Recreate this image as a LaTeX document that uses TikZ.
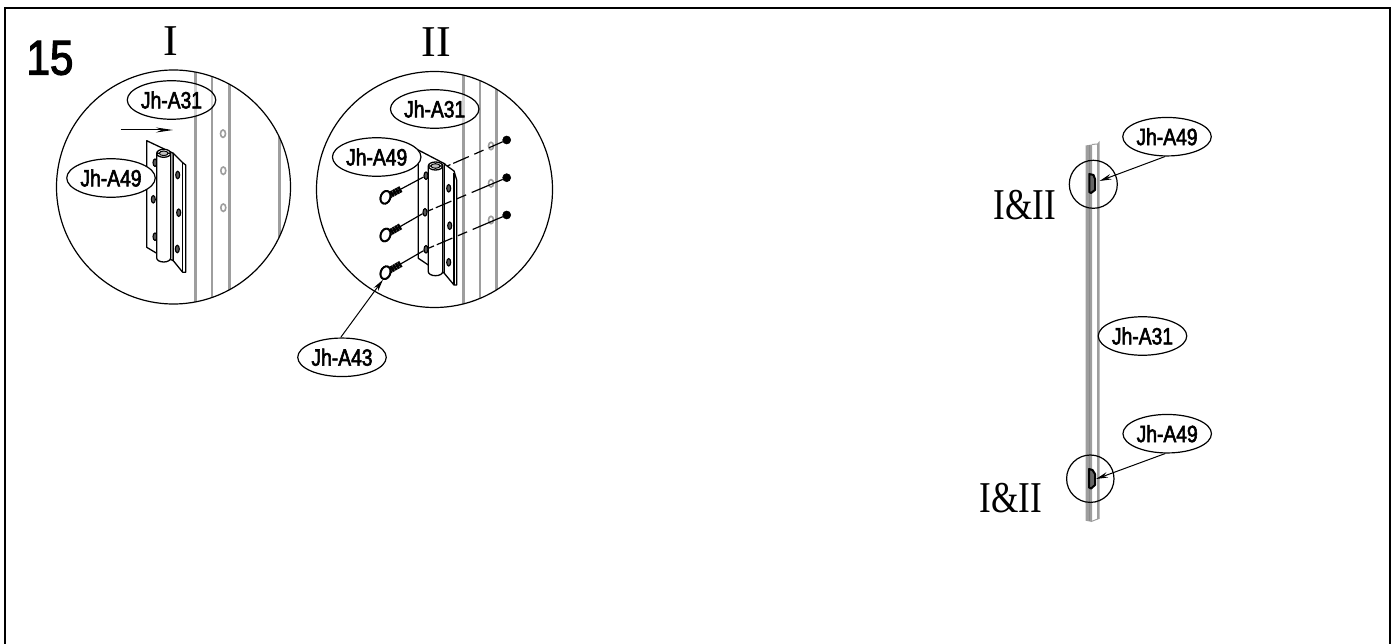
\documentclass[tikz,border=0pt]{standalone}
\usepackage{fontspec}
\setmainfont{Liberation Serif}
\newfontfamily\labf[RawFeature={embolden=2.4},FakeStretch=0.82]{Liberation Sans}
\newfontfamily\numf[RawFeature={embolden=2.4},FakeStretch=0.86]{Liberation Sans}
\usetikzlibrary{shapes.geometric,arrows.meta,calc}
\definecolor{railgray}{HTML}{9E9E9E}
\tikzset{
  tag/.style={draw,ellipse,inner sep=0pt,minimum width=88.5pt,minimum height=38.5pt,line width=1.2pt,fill=white,
    font=\labf\fontsize{23.5}{24}\selectfont},
  tagclear/.style={tag,fill opacity=0.55,text opacity=1},
  lens/.style={draw,circle,inner sep=0pt,line width=1.2pt},
  roman/.style={inner sep=0pt,font=\fontsize{44}{44}\selectfont},
  stripe/.style={railgray,line width=3pt},
  thin stripe/.style={railgray,line width=2.2pt},
  railhole/.style={draw=railgray,line width=1.6pt,fill=white,ellipse,inner sep=0pt,minimum width=5pt,minimum height=7.5pt},
  leafhole/.style={draw=black,line width=1.1pt,fill=black!65,ellipse,inner sep=0pt,minimum width=4pt,minimum height=7.5pt},
  hingeline/.style={draw=black,line width=1.3pt,fill=white,line join=round},
  nut/.style={draw=black,fill=black,circle,inner sep=0pt,minimum size=8pt,line width=0.6pt},
  screwhead/.style={draw=black,fill=white,ellipse,inner sep=0pt,minimum width=9.5pt,minimum height=13pt,line width=1.9pt,rotate=-20},
  leader/.style={draw=black,line width=1pt,-{Stealth[length=12pt,width=5.5pt]}},
  longleader/.style={draw=black,line width=1pt,-{Stealth[length=17pt,width=5pt]}},
  fix/.style={draw=black,line width=1.2pt},
  axisdash/.style={draw=black,line width=1.2pt,dash pattern=on 6pt off 3pt on 17pt off 6pt on 10pt off 6pt on 40pt off 1pt},
  thread/.style={black,line width=6.5pt,dash pattern=on 2.4pt off 0.5pt},
}
\begin{document}
\begin{tikzpicture}[x=1pt,y=-1pt]
\useasboundingbox (0,0) rectangle (1396,644);
% frame (open at the bottom)
\draw[line width=2pt] (5,644) -- (5,8.5) -- (1390,8.5) -- (1390,644);
\node[inner sep=0pt,font=\numf\fontsize{49}{49}\selectfont] (num) at (50,58) {15};
\node[roman] (tI) at (170.5,41) {I};
\node[roman] (tII) at (436,42) {II};

%%% Lens I
\begin{scope}
\clip (173.5,187) circle (117);
\draw[stripe] (195,60) -- (195,310);
\draw[thin stripe] (212,60) -- (212,310);
\draw[stripe] (229,60) -- (229,310);
\draw[stripe] (279,60) -- (279,310);
\end{scope}
\node[railhole] (ra1) at (223,133.7) {};
\node[railhole] (ra2) at (223.3,170.7) {};
\node[railhole] (ra3) at (223.3,207.7) {};
\node[lens,minimum size=234pt] (lensI) at (173.5,187) {};
\coordinate (arA) at (120.7,130);
\coordinate (arB) at (173,130);
\draw[longleader] (arA) -- (arB);
% hinge I
\draw[hingeline] (146.7,140.7) -- (173.3,153.3) -- (173.3,260.7) -- (156.7,253.3) -- (146.7,247.3) -- cycle;
\draw[hingeline] (173.3,153.3) -- (182.7,162.7) -- (185.7,165) -- (185.7,272.3) -- (182.7,272.3) -- (173.3,260.7) -- cycle;
\draw[line width=1.2pt] (182.7,162.7) -- (182.7,272.3);
\node[leafhole] (la1) at (155,162.7) {};
\node[leafhole] (la2) at (153.3,199.3) {};
\node[leafhole] (la3) at (155,236.7) {};
\node[leafhole] (lb1) at (177.7,175) {};
\node[leafhole] (lb2) at (178.7,212.7) {};
\node[leafhole] (lb3) at (177.3,249) {};
\draw[hingeline] (156.7,153.3) -- (156.7,258) arc[start angle=180,end angle=360,x radius=7pt,y radius=4pt] -- (170.7,153.3) arc[start angle=0,end angle=360,x radius=7pt,y radius=4pt] -- cycle;
\draw[line width=1pt,fill=black!25] (163.7,153.3) ellipse [x radius=4.4pt,y radius=2.3pt];
\node[tagclear] (a31I) at (171.5,100) {Jh-A31};
\node[tag] (a49I) at (111,178) {Jh-A49};

%%% Lens II
\begin{scope}
\clip (434.5,189.5) circle (118);
\draw[stripe] (463.3,60) -- (463.3,310);
\draw[thin stripe] (480.3,60) -- (480.3,310);
\draw[stripe] (496.7,60) -- (496.7,310);
\end{scope}
\node[railhole] (rb1) at (491,146) {};
\node[railhole] (rb2) at (491,183.3) {};
\node[railhole] (rb3) at (491,220) {};
\node[lens,minimum size=236pt] (lensII) at (434.5,189.5) {};
% screws and axes
\node[nut] (n1) at (506.7,140) {};
\node[nut] (n2) at (506.7,177.7) {};
\node[nut] (n3) at (506.7,215) {};
\node[screwhead] (s1) at (385.5,197.3) {};
\node[screwhead] (s2) at (385.5,235) {};
\node[screwhead] (s3) at (385.5,272.7) {};
\coordinate (e1) at (445,167);
\draw[axisdash] (e1) -- (n1);
% hinge II
\draw[hingeline] (418.3,150) -- (445,164) -- (445,273.3) -- (428.3,265) -- (418.3,258.3) -- cycle;
\draw[hingeline] (444.3,164) -- (454,171) -- (456.7,180) -- (456.7,285) -- (454,285) -- (444.3,273.3) -- cycle;
\draw[line width=1.2pt] (454,173) -- (454,285);
\node[leafhole] (lc1) at (426,175.7) {};
\node[leafhole] (lc2) at (425,212.3) {};
\node[leafhole] (lc3) at (426,249.3) {};
\node[leafhole] (ld1) at (448.7,188.3) {};
\node[leafhole] (ld2) at (449.7,225.7) {};
\node[leafhole] (ld3) at (448.7,262.3) {};
\draw[hingeline] (428.3,166) -- (428.3,271.7) arc[start angle=180,end angle=360,x radius=7.2pt,y radius=4pt] -- (442.7,166) arc[start angle=0,end angle=360,x radius=7.2pt,y radius=4pt] -- cycle;
\draw[line width=1pt,fill=black!25] (435.5,166) ellipse [x radius=4.6pt,y radius=2.3pt];
\draw[fix] (s1) -- (lc1);
\draw[fix] (s2) -- (lc2);
\draw[fix] (s3) -- (lc3);
\draw[axisdash] (lc2) -- (n2);
\draw[axisdash] (lc3) -- (n3);
\draw[thread] ($(s1)!0.38!(lc1)$) -- ($(s1)!0.06!(lc1)$);
\draw[thread] ($(s2)!0.38!(lc2)$) -- ($(s2)!0.06!(lc2)$);
\draw[thread] ($(s3)!0.38!(lc3)$) -- ($(s3)!0.06!(lc3)$);
\node[screwhead] at (s1) {};
\node[screwhead] at (s2) {};
\node[screwhead] at (s3) {};
\node[tagclear] (a31II) at (434.7,109) {Jh-A31};
\node[tag] (a49II) at (376.7,157) {Jh-A49};
\node[tag] (a43) at (342,357.3) {Jh-A43};
\coordinate (a43top) at (341,337);
\draw[leader] (a43top) -- (s3.south);

%%% Right-hand rail
\path[fill=railgray] (1085.5,145.5) -- (1092,144.5) -- (1092,521.5) -- (1090.7,521.7) -- (1085.5,520.7) -- cycle;
\path[fill=railgray] (1097,144) -- (1099.5,141) -- (1099.5,518.3) -- (1097,519.3) -- cycle;
\draw[black!45,line width=0.5pt] (1089,145) -- (1089,521);
\draw[railgray,line width=1pt] (1092,144.5) -- (1097,144);
\draw[railgray,line width=1pt] (1090.7,521.7) -- (1099.5,518.3);
% small hinges
\draw[line width=2pt,fill=black!60,line join=round] (1089.3,174) -- (1093.5,175) -- (1095,179) -- (1095,190) -- (1091,193) -- (1089.3,192) -- cycle;
\draw[line width=2pt,fill=black!60,line join=round] (1089,469) -- (1092.5,470) -- (1095,474) -- (1095,485) -- (1091,488.5) -- (1089,487.5) -- cycle;
\node[lens,minimum size=48pt] (lensA) at (1093.3,184.3) {};
\node[lens,minimum size=47.4pt] (lensB) at (1090.3,478.7) {};
\coordinate (tipA) at (1099.5,181);
\coordinate (tipB) at (1096,479);
\node[tag] (a49A) at (1167,136.7) {Jh-A49};
\node[tag] (a49B) at (1167.2,433.7) {Jh-A49};
\node[tag] (a31R) at (1142.5,336) {Jh-A31};
\draw[leader] (a49A.south) ++(-2,0) -- (tipA);
\draw[leader] (a49B.south) ++(-2,0) -- (tipB);
\node[roman,xscale=0.8] (tA) at (1025,205) {I\&II};
\node[roman,xscale=0.8] (tB) at (1011,498) {I\&II};
\end{tikzpicture}
\end{document}
